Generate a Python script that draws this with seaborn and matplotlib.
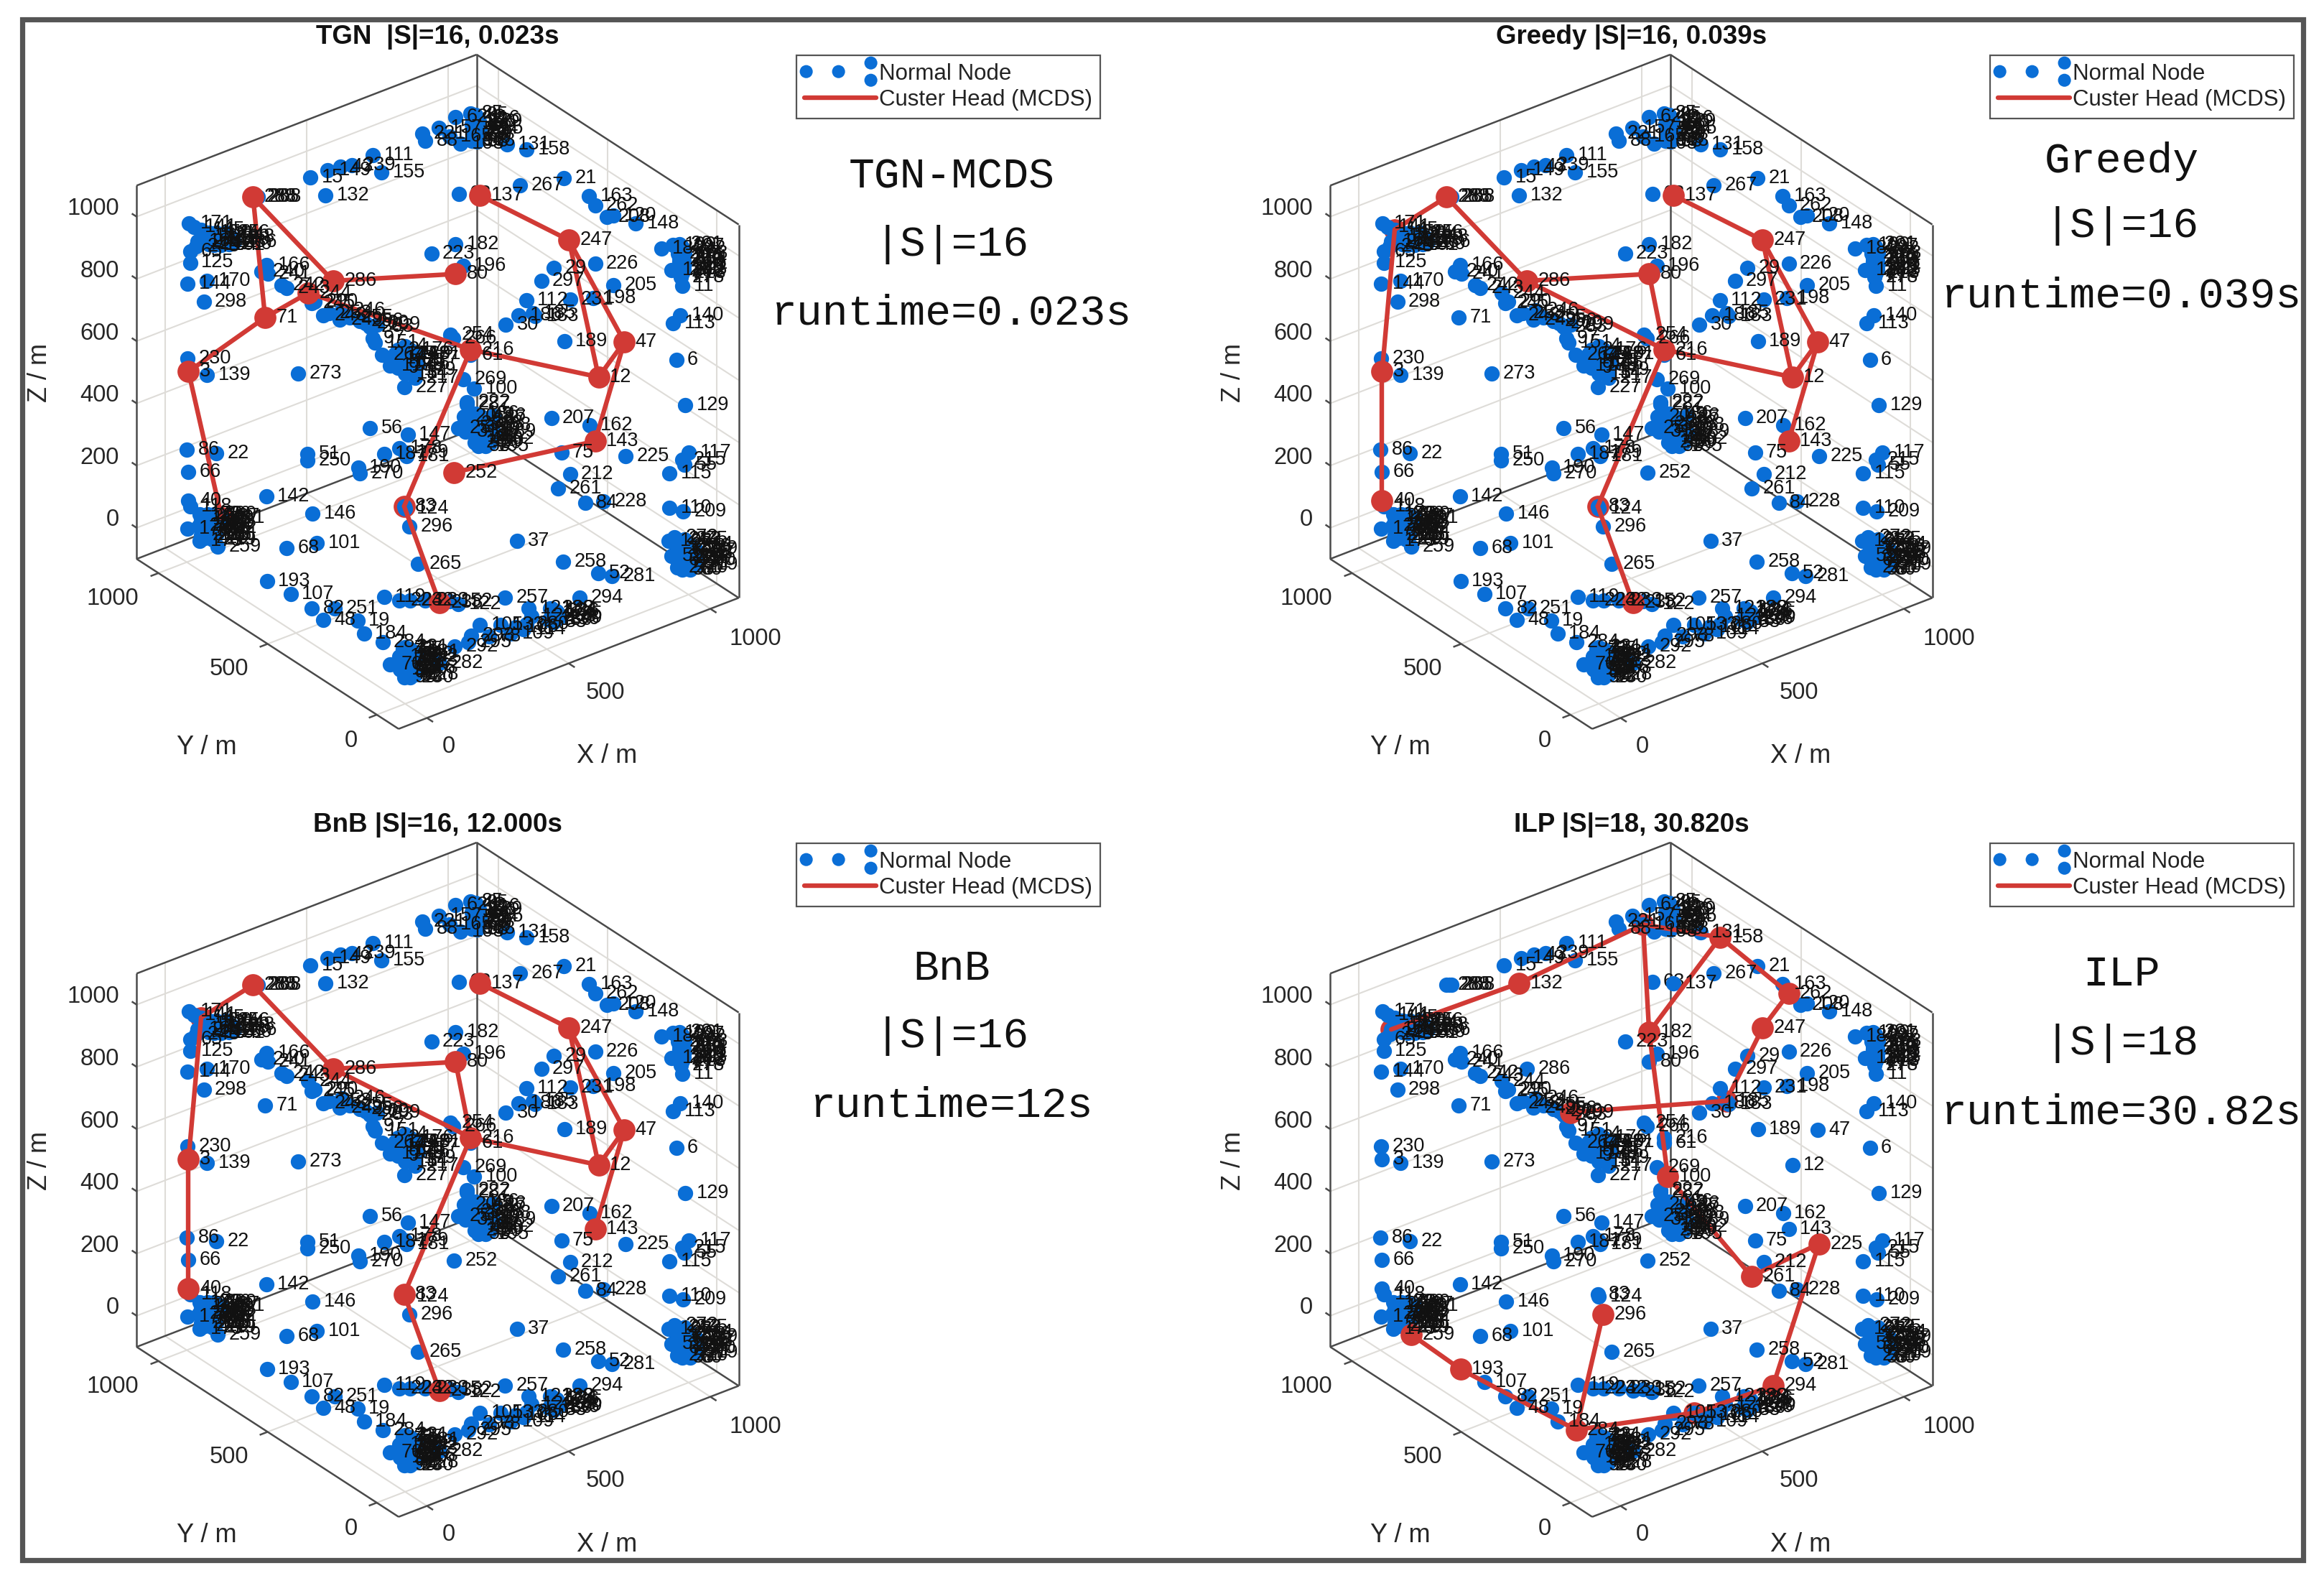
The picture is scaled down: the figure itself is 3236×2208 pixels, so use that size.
"""
Recreates the 4-panel MCDS comparison figure (TGN, Greedy, BnB, ILP).
Node positions are read off the picture, in the plane of the drawing.
"""

import numpy as np
import pandas as pd
import matplotlib
import matplotlib.pyplot as plt
import seaborn as sns
from matplotlib.legend_handler import HandlerPathCollection
from matplotlib.lines import Line2D
from matplotlib.patches import Rectangle

matplotlib.use('Agg')

# Node ids and their position on the drawing plane, grouped by region
node_ids = [
    111, 155, 239, 43, 149, 15, 132, 288, 268, 285,
    221, 88, 157, 85, 62, 10, 27, 35, 44, 57, 64, 69, 76, 91, 98, 103, 108, 165, 131, 158,
    267, 21, 163, 262, 208, 120, 148, 137, 63, 182, 223, 196, 80,
    247, 226, 29, 297, 205, 112, 231, 198, 185, 30, 186, 183, 189, 47, 6, 12, 129, 140, 113,
    180, 199, 126, 127, 128, 11, 278, 201, 202, 203, 204, 206, 210, 211, 213,
    171, 141, 145, 150, 152, 153, 154, 159, 160, 161, 164, 236, 167, 65, 125,
    166, 240, 241, 170, 144, 298, 286, 242, 243, 244, 290, 245, 71,
    246, 248, 249, 253, 255, 299, 256, 260, 263, 97, 151, 264,
    1, 2, 4, 5, 7, 8, 9, 13, 14, 16, 17, 18, 227, 217,
    254, 266, 216, 61, 100, 222, 269, 287,
    20, 24, 25, 26, 28, 31, 32, 34, 36, 38, 39, 42, 45, 46, 49, 50, 53,
    56, 147, 207, 162, 143, 225, 75, 212, 261, 84, 228,
    117, 215, 55, 115, 209, 110, 51, 250, 22, 86, 66, 190, 270,
    3, 230, 139, 273, 178, 179, 181, 187, 252, 142, 146, 40, 118, 191,
    172, 173, 175, 176, 177, 188, 192, 194, 195, 197, 200, 214, 218, 219, 220, 259,
    83, 124, 296, 37, 101, 68, 265, 258, 52, 281, 193, 107, 119, 224, 232, 238, 233, 152, 122,
    257, 294, 82, 251, 48, 19, 284, 184, 41,
    70, 72, 73, 74, 77, 79, 81, 87, 89, 90, 92, 93, 94, 96, 99, 102, 104,
    282, 292, 293, 295, 105, 133, 78, 106, 109, 114, 121, 123, 174, 130, 33, 134, 135, 136, 138, 280,
    168, 169, 271, 272, 274, 275, 276, 277, 279, 283, 289, 291, 300, 54, 58, 59, 60, 67,
]
node_x = [
    686, 703, 645, 622, 596, 562, 592, 448, 458, 453,
    784, 790, 817, 880, 850, 885, 888, 882, 892, 885, 895, 888, 895, 882, 892, 860, 883, 838, 952, 991,
    978, 1065, 1115, 1127, 1150, 1163, 1208, 898, 856, 850, 802, 865, 850,
    1075, 1127, 1045, 1020, 1163, 990, 1077, 1123, 1003, 950, 975, 1008, 1066, 1185, 1288, 1134, 1306, 1296, 1282,
    1258, 1282, 1297, 1278, 1297, 1300, 1297, 1295, 1300, 1292, 1303, 1295, 1302, 1292, 1300,
    321, 330, 345, 360, 350, 372, 385, 395, 400, 385, 370, 410, 338, 323, 323,
    475, 465, 477, 357, 318, 350, 607, 505, 515, 558, 570, 565, 472,
    625, 587, 620, 598, 640, 694, 660, 672, 680, 685, 690, 704,
    728, 735, 750, 765, 745, 760, 735, 750, 770, 775, 720, 755, 748, 770,
    840, 845, 880, 880, 887, 873, 865, 873,
    867, 902, 855, 888, 879, 870, 895, 905, 885, 920, 915, 912, 900, 925, 905, 918, 895,
    680, 755, 1040, 1116, 1127, 1187, 1060, 1077, 1053, 1107, 1143,
    1313, 1300, 1305, 1275, 1302, 1275, 556, 556, 375, 317, 320, 657, 660,
    320, 318, 357, 537, 738, 750, 752, 708, 847, 474, 566, 320, 323, 386,
    342, 318, 342, 345, 355, 365, 370, 350, 360, 375, 340, 360, 352, 368, 358, 378,
    748, 750, 758, 972, 575, 515, 776, 1063, 1133, 1160, 476, 523, 708, 738, 760, 818, 790, 838, 855,
    948, 1096, 565, 610, 587, 655, 705, 668, 745,
    720, 751, 746, 748, 755, 745, 752, 760, 758, 748, 760, 755, 745, 762, 750, 738, 740,
    818, 848, 881, 875, 898, 940, 916, 969, 960, 985, 995, 1000, 1040, 1035, 1045, 1045, 1055, 1050, 1038, 990,
    1273, 1297, 1290, 1285, 1295, 1305, 1310, 1288, 1300, 1315, 1325, 1310, 1320, 1330, 1300, 1278, 1315, 1290,
]
node_y = [
    255, 293, 278, 280, 288, 304, 343, 347, 347, 347,
    209, 225, 196, 165, 172, 172, 180, 188, 193, 200, 205, 212, 218, 222, 226, 230, 224, 215, 232, 243,
    322, 305, 345, 365, 390, 388, 405, 343, 340, 450, 470, 497, 515,
    441, 492, 502, 530, 540, 572, 570, 567, 600, 625, 605, 607, 661, 663, 703, 740, 802, 605, 623,
    460, 452, 475, 506, 502, 541, 522, 450, 460, 470, 480, 488, 495, 505, 512,
    405, 412, 418, 425, 432, 438, 430, 440, 450, 452, 452, 446, 444, 465, 490,
    495, 510, 515, 530, 537, 575, 530, 540, 545, 556, 575, 578, 610,
    595, 605, 615, 600, 610, 625, 618, 622, 630, 655, 665, 692,
    700, 680, 672, 690, 695, 715, 720, 732, 730, 712, 715, 705, 762, 742,
    648, 655, 680, 692, 765, 795, 745, 800,
    826, 836, 851, 883, 842, 860, 860, 875, 850, 840, 855, 870, 825, 825, 845, 885, 890,
    852, 865, 830, 845, 880, 912, 905, 952, 983, 1015, 1012,
    905, 920, 932, 950, 1033, 1025, 908, 922, 907, 899, 947, 938, 950,
    728, 700, 735, 733, 895, 905, 912, 908, 948, 1000, 1038, 1010, 1022, 1048,
    1040, 1071, 1098, 1050, 1060, 1055, 1070, 1075, 1085, 1045, 1065, 1062, 1092, 1095, 1040, 1110,
    1022, 1027, 1067, 1097, 1103, 1114, 1147, 1143, 1168, 1175, 1186, 1213, 1220, 1228, 1228, 1233, 1228, 1230, 1236,
    1222, 1222, 1245, 1245, 1270, 1272, 1318, 1300, 1335,
    1367, 1388, 1333, 1345, 1352, 1360, 1368, 1335, 1378, 1395, 1392, 1358, 1380, 1348, 1372, 1350, 1378,
    1364, 1328, 1304, 1318, 1281, 1281, 1306, 1286, 1300, 1290, 1245, 1262, 1255, 1270, 1275, 1250, 1258, 1268, 1245, 1280,
    1098, 1124, 1155, 1090, 1100, 1095, 1110, 1115, 1135, 1125, 1115, 1145, 1140, 1130, 1160, 1130, 1160, 1140,
]

# Further nodes inside the dense clusters, where the ids can hardly be told apart
cluster_ids = [
    95, 116, 156, 229, 234, 235, 237,
    174, 175, 176, 177, 178, 179, 180, 181,
    186, 187, 188, 189, 190, 192, 194, 195,
    197, 198, 200, 201, 202, 203,
    204, 205, 206, 207, 208, 209, 210, 211,
    212, 213, 214, 215, 217, 218, 219, 220,
    221, 222, 223, 224, 226, 227, 228, 230, 231, 232,
    233, 236, 239, 240,
    241, 242, 243, 245, 246, 248,
]
cluster_x = [
    890, 895, 884, 897, 889, 898, 884,
    730, 745, 760, 770, 740, 765, 755, 775,
    890, 905, 915, 925, 900, 920, 890, 910,
    1298, 1305, 1295, 1304, 1296, 1303,
    345, 360, 350, 365, 355, 370, 345, 375,
    1290, 1300, 1315, 1295, 1320, 1310, 1325, 1305,
    750, 760, 768, 750, 765, 755, 770, 760, 772, 768,
    1040, 1050, 1045, 1055,
    345, 360, 335, 375, 395, 405,
]
cluster_y = [
    168, 176, 184, 182, 197, 198, 208,
    690, 705, 680, 700, 715, 725, 690, 690,
    820, 830, 845, 860, 880, 875, 870, 890,
    455, 470, 480, 492, 510, 505,
    1045, 1050, 1065, 1075, 1085, 1040, 1085, 1085,
    1095, 1110, 1105, 1130, 1120, 1135, 1150, 1155,
    1330, 1345, 1360, 1350, 1375, 1385, 1390, 1395, 1340, 1350,
    1245, 1252, 1262, 1265,
    445, 450, 455, 425, 425, 435,
]

# Node whose label lies behind the neighbouring dot
labels_behind = [63]

panel_titles = ['TGN  |S|=16, 0.023s', 'Greedy |S|=16, 0.039s',
                'BnB |S|=16, 12.000s', 'ILP |S|=18, 30.820s']
panel_notes = [['TGN-MCDS', '|S|=16', 'runtime=0.023s'],
               ['Greedy', '|S|=16', 'runtime=0.039s'],
               ['BnB', '|S|=16', 'runtime=12s'],
               ['ILP', '|S|=18', 'runtime=30.82s']]

tgn_edges = [(288, 286), (288, 71), (71, 244), (71, 3), (3, 191), (286, 80), (244, 216),
             (216, 12), (216, 83), (83, 238), (137, 247), (247, 12), (247, 47), (47, 12),
             (47, 143), (143, 252)]
greedy_edges = [(288, 145), (145, 3), (3, 40), (288, 286), (286, 80), (286, 216), (80, 216),
                (216, 12), (216, 83), (83, 238), (137, 247), (247, 47), (247, 12), (47, 12),
                (47, 143)]
ilp_edges = [(167, 132), (132, 165), (165, 158), (165, 182), (158, 182), (158, 262),
             (262, 247), (247, 185), (185, 299), (182, 100), (100, 261), (261, 225),
             (225, 294), (294, 133), (133, 284), (284, 296), (284, 193), (193, 259)]
panel_edges = [tgn_edges, greedy_edges, greedy_edges, ilp_edges]

# Heads that sit behind the normal nodes in the 3-D view
panel_hidden = [[191, 83], [83, 145], [145], [167, 165, 185, 133]]

axis_ticks = [0, 500, 1000]
z_ticks = [0, 200, 400, 600, 800, 1000]
box_min, box_max = -100, 1100

BLUE = '#0a6ed6'
RED = '#d13a35'
FIG_W, FIG_H = 3237, 2208
PANEL_W, PANEL_H = 1100, 1000
PLANE = 1568
panel_origins = [(38, 53), (1700, 53), (38, 1150), (1700, 1150)]
note_centers = [(1325, (246, 340, 436)), (2954, (224, 315, 412)),
                (1325, (1349, 1442, 1539)), (2954, (1357, 1452, 1549))]


def project(x, y, z):
    # Axonometric view of the box onto the drawing plane
    dx = (x - box_min) / (box_max - box_min)
    dy = (y - box_min) / (box_max - box_min)
    dz = (z - box_min) / (box_max - box_min)
    return 737 + 675 * dx - 520 * dy, 1508 - 286 * dx - 371 * dy - 815 * dz


def seg3d(ax, a, b, **kw):
    pa, pb = project(*a), project(*b)
    ax.plot([pa[0], pb[0]], [pa[1], pb[1]], solid_capstyle='butt', **kw)


def draw_box(ax):
    grid = dict(color='#dedcd8', lw=1.5, zorder=0.5)
    for z in z_ticks:
        seg3d(ax, (box_min, box_max, z), (box_max, box_max, z), **grid)
        seg3d(ax, (box_max, box_max, z), (box_max, box_min, z), **grid)
    for t in axis_ticks:
        seg3d(ax, (t, box_max, box_min), (t, box_max, box_max), **grid)
        seg3d(ax, (box_max, t, box_min), (box_max, t, box_max), **grid)
        seg3d(ax, (t, box_min, box_min), (t, box_max, box_min), **grid)
        seg3d(ax, (box_min, t, box_min), (box_max, t, box_min), **grid)

    edge = dict(color='#4a4a4a', lw=1.8, zorder=0.8)
    lo, hi = box_min, box_max
    seg3d(ax, (lo, hi, lo), (lo, hi, hi), **edge)
    seg3d(ax, (hi, lo, lo), (hi, lo, hi), **edge)
    seg3d(ax, (hi, hi, lo), (hi, hi, hi), **edge)
    seg3d(ax, (lo, hi, hi), (hi, hi, hi), **edge)
    seg3d(ax, (hi, hi, hi), (hi, lo, hi), **edge)
    seg3d(ax, (lo, lo, lo), (lo, hi, lo), **edge)
    seg3d(ax, (lo, lo, lo), (hi, lo, lo), **edge)
    seg3d(ax, (lo, hi, lo), (hi, hi, lo), **edge)
    seg3d(ax, (hi, lo, lo), (hi, hi, lo), **edge)

    # Ticks and their labels
    for t in axis_ticks:
        seg3d(ax, (t, lo, lo), (t, lo - 28, lo), **edge)
        seg3d(ax, (lo, t, lo), (lo - 28, t, lo), **edge)
    for z in z_ticks:
        seg3d(ax, (lo, hi, z), (lo, hi + 22, z), **edge)
        px, py = project(lo, hi, z)
        ax.text(182, py - 17, str(z), ha='right', va='center', fontsize=23.5, color='#262626')

    for t, pos in zip(axis_ticks, [(837, 1547), (1148, 1430), (1445, 1312)]):
        ax.text(*pos, str(t), ha='center', va='center', fontsize=23.5, color='#262626')
    for t, pos in zip(axis_ticks, [(643, 1534), (400, 1377), (170, 1224)]):
        ax.text(*pos, str(t), ha='center', va='center', fontsize=23.5, color='#262626')

    ax.text(25, 730, 'Z / m', rotation=90, ha='center', va='center', fontsize=26, color='#262626')
    ax.text(356, 1548, 'Y / m', ha='center', va='center', fontsize=26, color='#262626')
    ax.text(1151, 1568, 'X / m', ha='center', va='center', fontsize=26, color='#262626')


class LegendDots(HandlerPathCollection):
    # Reproduces the uneven marker row of the original legend
    def get_numpoints(self, legend):
        return 4

    def get_xdata(self, legend, xdescent, ydescent, width, height, fontsize):
        xs = np.array([0.03, 0.48, 0.93, 0.93]) * width - xdescent
        return xs, xs


def plot_panel(ax, idx, pts, xy):
    ax.set_xlim(0, PLANE)
    ax.set_ylim(PLANE, 0)
    ax.axis('off')
    draw_box(ax)

    hidden = panel_hidden[idx]
    heads = sorted({n for e in panel_edges[idx] for n in e})
    front = pd.DataFrame({'x': [xy[n][0] for n in heads if n not in hidden],
                          'y': [xy[n][1] for n in heads if n not in hidden]})
    back = pd.DataFrame({'x': [xy[n][0] for n in hidden], 'y': [xy[n][1] for n in hidden]})

    sns.scatterplot(data=back, x='x', y='y', ax=ax, s=490, color=RED, linewidth=0,
                    zorder=1, legend=False)
    sns.scatterplot(data=pts, x='x', y='y', ax=ax, s=235, color=BLUE, linewidth=0,
                    zorder=2, legend=False)
    for a, b in panel_edges[idx]:
        ax.plot([xy[a][0], xy[b][0]], [xy[a][1], xy[b][1]], color=RED, lw=4.6, zorder=3)
    sns.scatterplot(data=front, x='x', y='y', ax=ax, s=490, color=RED, linewidth=0,
                    zorder=4, legend=False)

    for _, row in pts.iterrows():
        z = 1.5 if int(row['id']) in labels_behind else 5
        ax.text(row['x'] + 22, row['y'], str(int(row['id'])), ha='left', va='center',
                fontsize=19.5, color='#111111', zorder=z)

    ax.set_xlabel('')
    ax.set_ylabel('')


def add_legend(ax, ox, oy):
    dots = ax.scatter([], [], s=170, color=BLUE, linewidth=0)
    line = Line2D([], [], color=RED, lw=4.6)
    leg = ax.legend([dots, line], ['Normal Node', 'Custer Head (MCDS)'],
                    handler_map={dots: LegendDots(yoffsets=[0.5, 0.5, 1.05, -0.05])},
                    loc='upper left', bbox_to_anchor=((ox + 1071) / FIG_W, 1 - (oy + 24) / FIG_H),
                    bbox_transform=plt.gcf().transFigure, borderaxespad=0, fontsize=22.5,
                    handlelength=3.2, handletextpad=0.15, borderpad=0.34, labelspacing=0.2,
                    frameon=True, fancybox=False, edgecolor='#555555', framealpha=1)
    leg.get_frame().set_linewidth(1.6)
    for txt in leg.get_texts():
        txt.set_color('#222222')


def main():
    sns.set_theme(style='white')
    plt.rcParams['font.family'] = ['Liberation Sans', 'DejaVu Sans']

    pts = pd.DataFrame({'id': node_ids + cluster_ids, 'x': node_x + cluster_x,
                        'y': node_y + cluster_y})
    xy = dict(zip(node_ids, zip(node_x, node_y)))

    fig = plt.figure(figsize=(FIG_W / 100, FIG_H / 100), dpi=100)
    fig.patch.set_facecolor('white')

    for idx, (ox, oy) in enumerate(panel_origins):
        ax = fig.add_axes([ox / FIG_W, 1 - (oy + PANEL_H) / FIG_H,
                           PANEL_W / FIG_W, PANEL_H / FIG_H])
        plot_panel(ax, idx, pts, xy)
        add_legend(ax, ox, oy)

        # Panel title, in the plot's own plane
        ax.text(815, -3, panel_titles[idx], ha='center', va='center',
                fontsize=26.5, fontweight='bold', color='#111111')

        cx, rows = note_centers[idx]
        for line, py in zip(panel_notes[idx], rows):
            fig.text(cx / FIG_W, 1 - py / FIG_H, line, ha='center', va='center',
                     family='Liberation Mono', fontsize=43, color='#111111')

    # Outer frame round the whole figure
    fig.add_artist(Rectangle((31 / FIG_W, 1 - 2172 / FIG_H), (3207 - 31) / FIG_W,
                             (2172 - 27) / FIG_H, transform=fig.transFigure, fill=False,
                             edgecolor='#555555', linewidth=5.2))
    fig.savefig('out.png', dpi=100)
    plt.close(fig)


if __name__ == '__main__':
    main()
